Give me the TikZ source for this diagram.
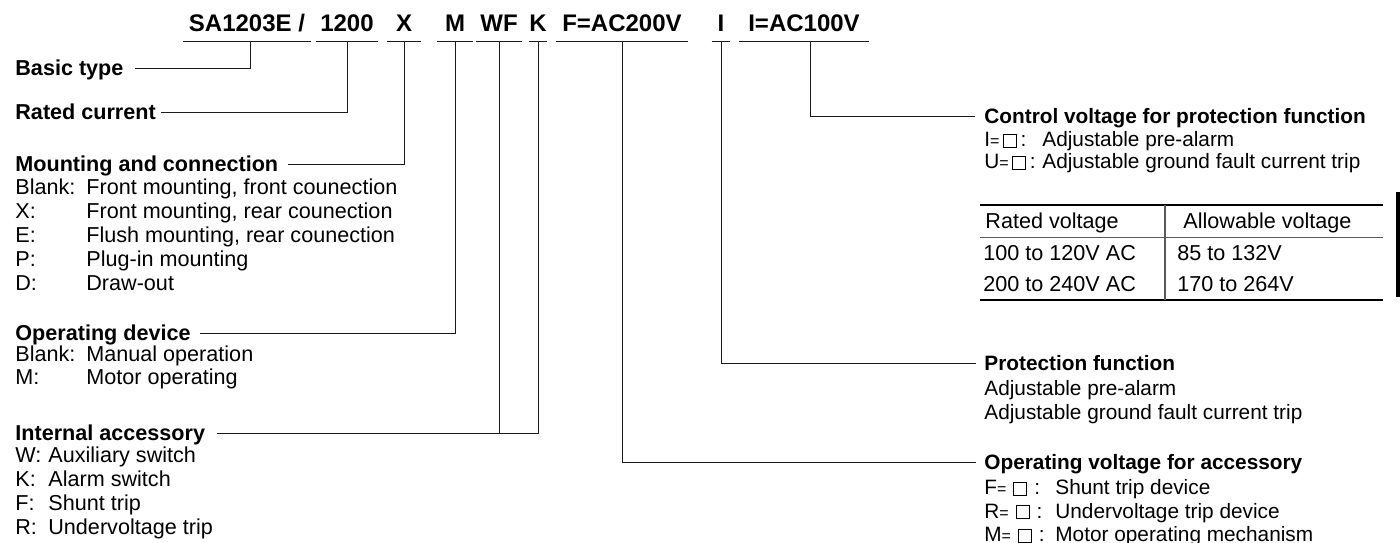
\documentclass[tikz,border=0pt]{standalone}
\usepackage{fontspec}
\setmainfont{Liberation Sans}
\usetikzlibrary{calc}
\definecolor{color_wire}{HTML}{1A1A1A}
\definecolor{color_table_rule}{HTML}{5A5A5A}
\def\wirelinewidth{0.5pt}
\def\leftsize{\fontsize{10.8}{13}\selectfont}
\def\rightsize{\fontsize{10.4}{12.5}\selectfont}
\newcommand{\sqbox}{{\setlength{\fboxsep}{0pt}\setlength{\fboxrule}{0.45pt}\fbox{\rule{0pt}{6pt}\hspace{6pt}}}}
\newcommand{\smalleq}{{\fontsize{8}{9}\selectfont=}}
\newcommand{\keyeq}[2][3.5pt]{#2\smalleq\hspace{#1}\sqbox\hspace{#1}:}
\tikzset{
    codebox/.style={font=\fontsize{12}{14}\selectfont\bfseries, anchor=south, inner xsep=0pt, inner ysep=4.5pt, text height=8.6pt, text depth=0pt},
    headlbl/.style={font=\leftsize\bfseries, anchor=west, inner sep=0pt, text height=7.7pt, text depth=0pt},
    itemlbl/.style={font=\leftsize, anchor=west, inner sep=0pt, text height=7.7pt, text depth=0pt},
    rheadlbl/.style={headlbl, font=\rightsize\bfseries},
    ritemlbl/.style={itemlbl, font=\rightsize},
    cell/.style={itemlbl},
    wire/.style={draw=color_wire, line width=\wirelinewidth},
}

\begin{document}
\begin{tikzpicture}[x=0.5pt,y=-0.5pt]
    \useasboundingbox (0,0) rectangle (1400,542);
    % type code
    \node[codebox, minimum width=63.5pt] (sa) at (247,41) {SA1203E /};
    \node[codebox, minimum width=30.5pt] (cur) at (347,41) {1200};
    \node[codebox, minimum width=17pt] (mnt) at (404,41) {X};
    \node[codebox, minimum width=17.5pt] (opd) at (455,41) {M};
    \node[codebox, minimum width=22.5pt] (acc) at (499,41) {WF};
    \node[codebox, minimum width=9pt] (alm) at (538,41) {K};
    \node[codebox, minimum width=65.5pt] (fv) at (622,41) {F=AC200V};
    \node[codebox, minimum width=9pt] (prot) at (721,41) {I};
    \node[codebox, minimum width=65pt] (iv) at (804,41) {I=AC100V};
    \foreach \n in {sa,cur,mnt,opd,acc,alm,fv,prot,iv}
        \draw[wire] (\n.south west) -- (\n.south east);
    % left column
    \node[headlbl] (basic) at (15,68) {Basic type};
    \node[headlbl] (rated) at (15,112) {Rated current};
    \node[headlbl] (mount) at (15,164) {Mounting and connection};
    \foreach \k/\t [count=\i from 0] in {Blank:/{Front mounting, front counection}, X:/{Front mounting, rear counection}, E:/{Flush mounting, rear counection}, P:/Plug-in mounting, D:/Draw-out}
        \node[itemlbl] (mount-\i) at (15,187+24*\i) {\makebox[35.5pt][l]{\k}\t};
    \node[headlbl] (opdev) at (15,333) {Operating device};
    \foreach \k/\t [count=\i from 0] in {Blank:/Manual operation, M:/Motor operating}
        \node[itemlbl] (opdev-\i) at (15,354+23*\i) {\makebox[35.5pt][l]{\k}\t};
    \node[headlbl] (inacc) at (15,433) {Internal accessory};
    \foreach \k/\t [count=\i from 0] in {W:/Auxiliary switch, K:/Alarm switch, F:/Shunt trip, R:/Undervoltage trip}
        \node[itemlbl] (inacc-\i) at (15,455+24*\i) {\makebox[16.5pt][l]{\k}\t};
    % right column
    \node[rheadlbl] (ctrl) at (984,116) {Control voltage for protection function};
    \node[ritemlbl] (ctrl-0) at (984,139) {\makebox[29pt][l]{\keyeq[1.8pt]{I}}Adjustable pre-alarm};
    \node[ritemlbl] (ctrl-1) at (984,161) {\makebox[29pt][l]{\keyeq[1.8pt]{U}}Adjustable ground fault current trip};
    \node[rheadlbl] (pfun) at (984,363) {Protection function};
    \node[ritemlbl] (pfun-0) at (984,388) {Adjustable pre-alarm};
    \node[ritemlbl] (pfun-1) at (984,412) {Adjustable ground fault current trip};
    \node[rheadlbl] (opvolt) at (984,462) {Operating voltage for accessory};
    \foreach \k/\t [count=\i from 0] in {F/Shunt trip device, R/Undervoltage trip device, M/Motor operating mechanism}
        \node[ritemlbl] (opvolt-\i) at (984,487+23.5*\i) {\makebox[35.5pt][l]{\keyeq{\k}}\t};
    % voltage table
    \draw[line width=1pt] (980,205) -- (1383,205);
    \draw[color_table_rule, line width=0.5pt] (980,237) -- (1383,237);
    \draw[line width=1pt] (980,300) -- (1383,300);
    \draw[color_table_rule, line width=0.6pt] (1165,205) -- (1165,300);
    \node[cell] (th-1) at (985,221) {Rated voltage};
    \node[cell] (th-2) at (1183,221) {Allowable voltage};
    \node[cell] (r1-1) at (983,253) {100 to 120V AC};
    \node[cell] (r1-2) at (1177,253) {85 to 132V};
    \node[cell] (r2-1) at (983,284) {200 to 240V AC};
    \node[cell] (r2-2) at (1177,284) {170 to 264V};
    \draw[line width=1.6pt] (1398,192) -- (1398,297);
    % connectors
    \draw[wire, shorten <=5.5pt] (basic.east) -| ([xshift=1.5pt]sa.south);
    \draw[wire, shorten <=2.5pt] (rated.east) -| (cur.south);
    \draw[wire, shorten <=4.5pt] (mount.east) -| (mnt.south);
    \draw[wire, shorten <=4.5pt] (opdev.east) -| (opd.south);
    \draw[wire, shorten <=5.5pt] (inacc.east) -| (alm.south);
    \draw[wire] (acc.south) -- (acc.south |- inacc.east);
    \draw[wire, shorten >=4.5pt] ([xshift=3pt]iv.south) |- (ctrl.west);
    \draw[wire, shorten >=4pt] (prot.south) |- (pfun.west);
    \draw[wire, shorten >=4pt] (fv.south) |- (opvolt.west);
\end{tikzpicture}
\end{document}
